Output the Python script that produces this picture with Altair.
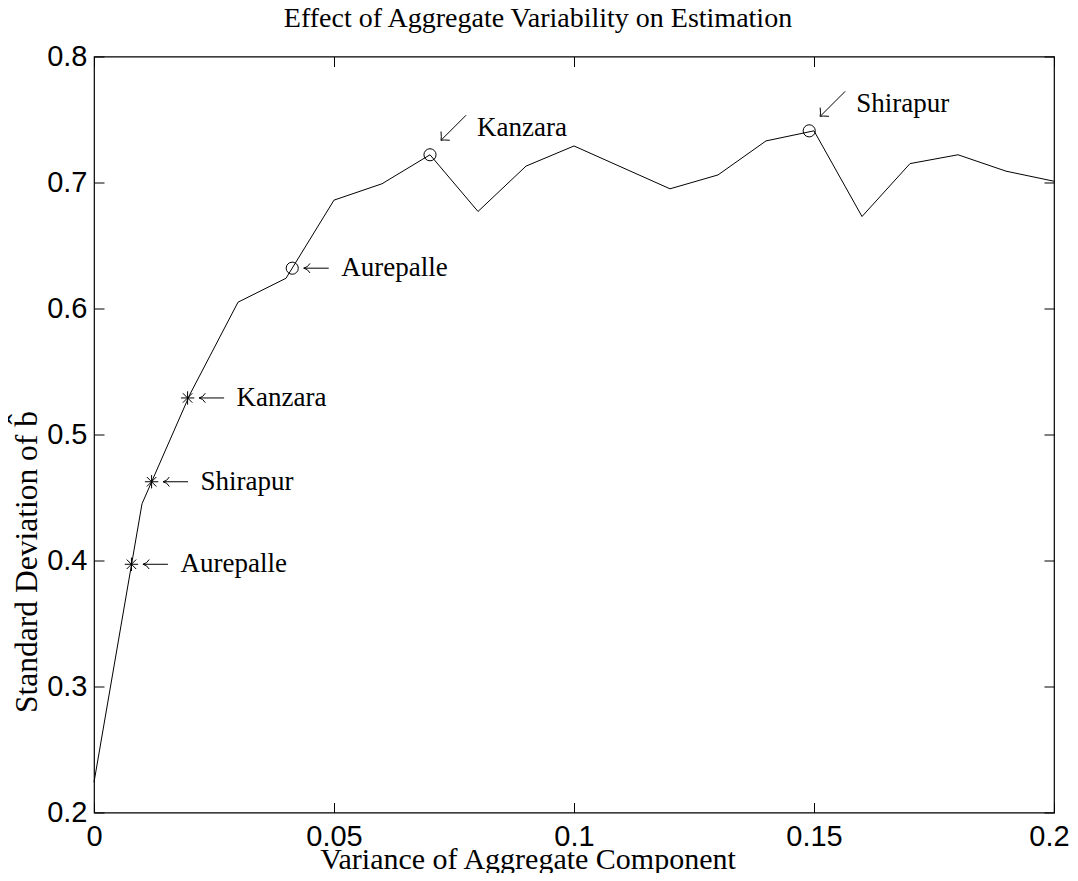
import altair as alt
import pandas as pd

# ---- data ----
variance = [0.00, 0.01, 0.02, 0.03, 0.04, 0.05, 0.06, 0.07, 0.08, 0.09, 0.10,
            0.11, 0.12, 0.13, 0.14, 0.15, 0.16, 0.17, 0.18, 0.19, 0.20]
sd_b = [0.224, 0.445, 0.532, 0.605, 0.624, 0.686, 0.699, 0.722, 0.677, 0.713, 0.729,
        0.712, 0.695, 0.706, 0.733, 0.741, 0.673, 0.715, 0.722, 0.709, 0.701]

star_x = [0.0078, 0.0120, 0.0195]
star_y = [0.397, 0.4625, 0.529]
star_names = ["Aurepalle", "Shirapur", "Kanzara"]

circle_x = [0.0413, 0.0700, 0.1490]
circle_y = [0.632, 0.722, 0.741]
circle_names = ["Aurepalle", "Kanzara", "Shirapur"]

x_ticks = [0, 0.05, 0.1, 0.15, 0.2]
y_ticks = [0.2, 0.3, 0.4, 0.5, 0.6, 0.7, 0.8]

title_text = ["Effect of Aggregate Variability on Estimation"]
x_title = "Variance of Aggregate Component"
y_title = "Standard Deviation of b\u0302"

# ---- tables ----
line_df = pd.DataFrame({"x": variance, "y": sd_b})
star_df = pd.DataFrame({"x": star_x, "y": star_y, "name": star_names})
circle_df = pd.DataFrame({"x": circle_x, "y": circle_y, "name": circle_names})
left_df = pd.concat([star_df, circle_df.iloc[[0]]], ignore_index=True)
diag_df = circle_df.iloc[1:].reset_index(drop=True)
title_df = pd.DataFrame({"t": title_text})

xs = alt.Scale(domain=[0, 0.2], nice=False, zero=False)
ys = alt.Scale(domain=[0.2, 0.8], nice=False, zero=False)

SERIF = "Liberation Serif"
SANS = "Liberation Sans"

common_axis = dict(offset=-10, tickSize=10, domain=False, grid=False,
                   tickColor="black", tickWidth=1, labelColor="black")

x_bottom = alt.Axis(orient="bottom", values=x_ticks, format="~g",
                    labelFont=SANS, labelFontSize=29, labelPadding=10,
                    labelFlush=False, labelOverlap=False,
                    labelOffset={"condition": {"test": "datum.value >= 0.2", "value": -5},
                                 "value": 0},
                    title=x_title, titleFont=SERIF, titleFontSize=30,
                    titleFontWeight="normal", titleColor="black",
                    titleX=433.5, titleY=66, titleAlign="center",
                    titleBaseline="alphabetic", **common_axis)
y_left = alt.Axis(orient="left", values=y_ticks, format=".1f",
                  labelFont=SANS, labelFontSize=29, labelPadding=7,
                  labelOverlap=False, labelFlush=False,
                  title=y_title, titleFont=SERIF, titleFontSize=31.5,
                  titleFontWeight="normal", titleColor="black",
                  titleAngle=270, titleX=-77, titleY=505,
                  titleAlign="center", titleBaseline="middle", **common_axis)
x_top = alt.Axis(orient="top", values=x_ticks, labels=False, title=None, **common_axis)
y_right = alt.Axis(orient="right", values=y_ticks, labels=False, title=None, **common_axis)

enc_xy = dict(
    x=alt.X("x:Q", scale=xs, axis=None),
    y=alt.Y("y:Q", scale=ys, axis=None),
)

line = alt.Chart(line_df).mark_line(color="black", strokeWidth=1).encode(
    x=alt.X("x:Q", scale=xs, axis=x_bottom),
    y=alt.Y("y:Q", scale=ys, axis=y_left),
)

circles = alt.Chart(circle_df).mark_point(
    shape="circle", filled=False, size=147, color="black", strokeWidth=1, opacity=1
).encode(
    x=alt.X("x:Q", scale=xs, axis=x_top),
    y=alt.Y("y:Q", scale=ys, axis=y_right),
)

star_path = "M-1,0L1,0M0,-1L0,1M-0.707,-0.707L0.707,0.707M-0.707,0.707L0.707,-0.707"
stars = alt.Chart(star_df).mark_point(
    shape=star_path, filled=False, size=180, color="black", strokeWidth=1, opacity=1
).encode(**enc_xy)

# arrows drawn as symbols next to each marker
left_arrow_path = "M1,0L-1,0M-0.5,-0.38Q-0.68,-0.06,-1,0Q-0.68,0.06,-0.5,0.38"
diag_arrow_path = "M1,-1L-1,1M-1,0.3Q-0.95,0.8,-1,1Q-0.8,0.95,-0.3,1"

left_arrow = alt.Chart(left_df).mark_point(
    shape=left_arrow_path, filled=False, size=625, color="black",
    strokeWidth=1, opacity=1, xOffset=24, yOffset=0
).encode(**enc_xy)
left_name = alt.Chart(left_df).mark_text(
    align="left", baseline="middle", dx=49, dy=0,
    font=SERIF, fontSize=27, color="black"
).encode(text="name:N", **enc_xy)

diag_arrow = alt.Chart(diag_df).mark_point(
    shape=diag_arrow_path, filled=False, size=625, color="black",
    strokeWidth=1, opacity=1, xOffset=23.5, yOffset=-27
).encode(**enc_xy)
diag_name = alt.Chart(diag_df).mark_text(
    align="left", baseline="middle", dx=47, dy=-27,
    font=SERIF, fontSize=27, color="black"
).encode(text="name:N", **enc_xy)

# chart title, placed above the plot frame
title_mark = alt.Chart(title_df).mark_text(
    align="center", baseline="alphabetic", font=SERIF, fontSize=28, color="black"
).encode(
    x=alt.value(444), y=alt.value(-29.5), text="t:N"
)

chart = alt.layer(
    line, circles, stars, left_arrow, left_name, diag_arrow, diag_name, title_mark
).resolve_axis(
    x="independent", y="independent"
).properties(
    width=960, height=756,
    autosize=alt.AutoSizeParams(type="none"),
    padding={"left": 86, "top": 48.5, "right": 16, "bottom": 60.5},
    background="white",
).configure_view(
    stroke="black", strokeWidth=1.2
)

chart.save("out.html", embed_options={"renderer": "svg", "actions": False})
